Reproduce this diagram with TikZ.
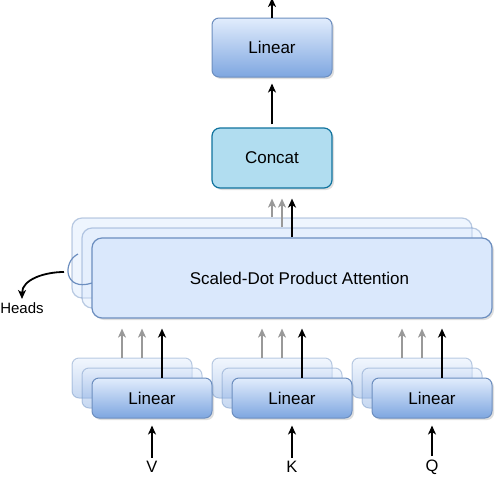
\documentclass[tikz,border=0pt]{standalone}
\usepackage{fontspec}
\setmainfont{Liberation Sans}
\usetikzlibrary{positioning,arrows.meta,shadows}
\definecolor{boxfill}{HTML}{DAE8FC}
\definecolor{boxdark}{HTML}{7EA6E0}
\definecolor{boxline}{HTML}{6C8EBF}
\definecolor{catfill}{HTML}{B1DDF0}
\definecolor{catline}{HTML}{10739E}
\tikzset{
  shad/.style={drop shadow={shadow xshift=2pt,shadow yshift=-2pt,opacity=0.25}},
  linbox/.style={draw=boxline,line width=1pt,rounded corners=7pt,top color=boxfill!80,bottom color=boxdark,
    minimum width=120pt,minimum height=40pt,font=\fontsize{17}{20}\selectfont},
  catbox/.style={draw=catline,line width=1.2pt,rounded corners=8pt,fill=catfill,
    minimum width=120pt,minimum height=60pt,font=\fontsize{17}{20}\selectfont},
  attbox/.style={draw=boxline,line width=1.2pt,rounded corners=10pt,fill=boxfill,
    minimum width=400pt,minimum height=80pt,font=\fontsize{17}{20}\selectfont},
  ghost/.style={fill opacity=0.45,draw opacity=0.45},
  lbl/.style={font=\fontsize{16.5}{19}\selectfont},
  arr/.style={-{Stealth[length=9pt,width=8pt,inset=2.5pt]},line width=1.8pt,black},
  greyarr/.style={-{Stealth[length=9pt,width=8pt,inset=2.5pt]},line width=1.3pt,black!40}
}
\begin{document}
\begin{tikzpicture}[x=1pt,y=-1pt]
\useasboundingbox (0,0) rectangle (504,491);
\node[linbox,shad,minimum height=59pt] (out) at (272,47.5) {Linear};
\node[catbox,shad] (concat) at (272,158) {Concat};
\coordinate (top) at (272,-2);
\draw[arr] (out) -- (top);
\draw[arr,shorten <=3pt,shorten >=6pt] (concat) -- (out);
\node[attbox,ghost] (attA) at (272,258) {};
\node[attbox,ghost] (attB) at (282,268) {};
\draw[boxline,line width=1.2pt] (78,254) .. controls (62,262) and (64,292) .. (92,283);
\node[attbox,shad] (att) at (292,278) {\hspace*{15pt}\raisebox{-3pt}{Scaled-Dot Product Attention}};
\draw[greyarr,shorten >=10pt] (attA.north) -- (attA.north |- concat.south);
\draw[greyarr,shorten >=10pt] (attB.north) -- (attB.north |- concat.south);
\draw[arr,shorten >=10pt] (att.north) -- (att.north |- concat.south);
\node[lbl,font=\fontsize{15}{18}\selectfont] (heads) at (22,308) {Heads};
\coordinate (hd) at (64,272);
\draw[arr] (hd) to[out=180,in=90] (heads);
\foreach \i/\lb in {0/V,1/K,2/Q}{
  \pgfmathsetmacro\cx{152+140*\i}
  \node[linbox,ghost] (g\i a) at (\cx-20,378) {};
  \node[linbox,ghost] (g\i b) at (\cx-10,388) {};
  \node[linbox,shad] (g\i) at (\cx,398) {Linear};
  \node[lbl] (in\i) at (\cx,467) {\lb};
  \draw[arr,shorten >=7pt] (in\i) -- (g\i);
  \draw[greyarr,shorten >=10pt] ([xshift=-10pt]g\i a.north) -- ([xshift=-10pt]g\i a.north |- att.south);
  \draw[greyarr,shorten >=10pt] ([xshift=10pt]g\i a.north) -- ([xshift=10pt]g\i a.north |- att.south);
  \draw[arr,shorten >=10pt] ([xshift=10pt]g\i.north) -- ([xshift=10pt]g\i.north |- att.south);
}
\end{tikzpicture}
\end{document}
